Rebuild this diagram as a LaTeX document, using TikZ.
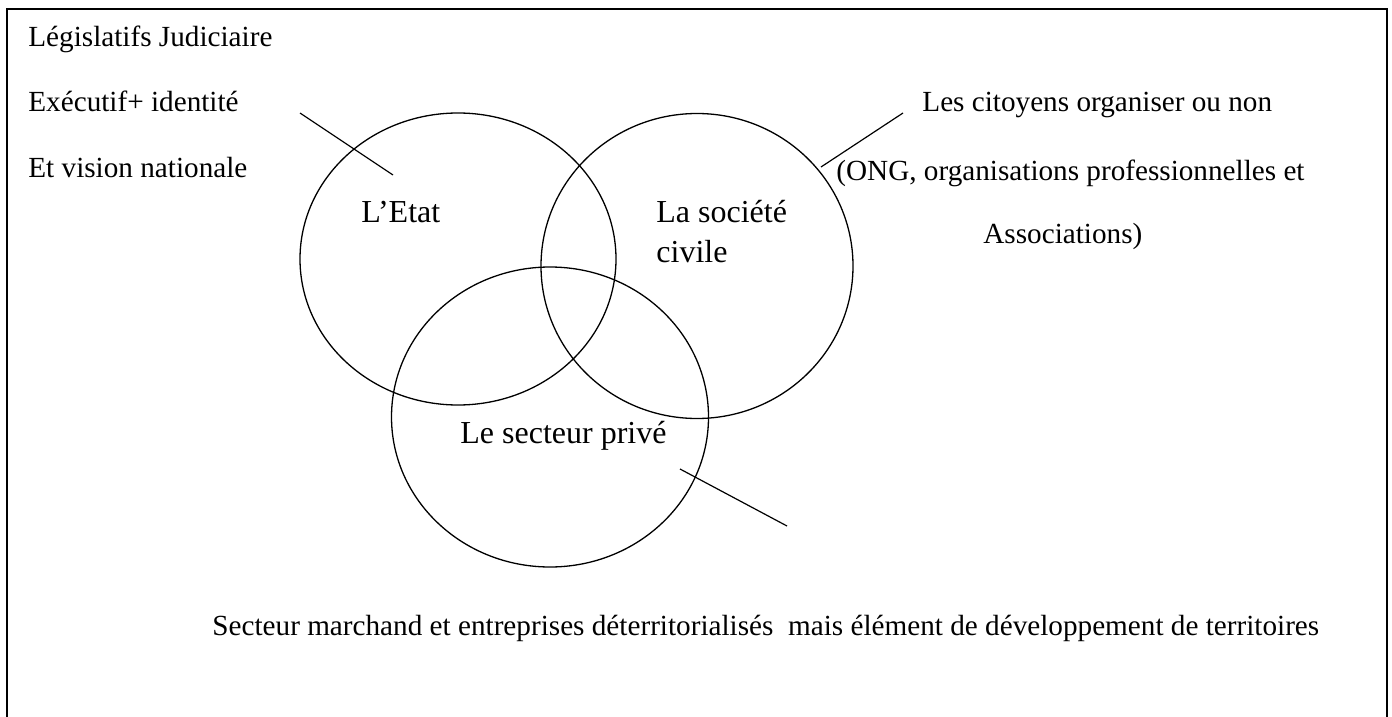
\documentclass[tikz,border=0pt]{standalone}
\usepackage{fontspec}
\setmainfont{Liberation Serif}
\usetikzlibrary{shapes.geometric}

\begin{document}
\begin{tikzpicture}[x=0.5pt, y=-0.5pt,
txt/.style={anchor=base west, inner sep=0pt, font=\fontsize{14.6}{17.5}\selectfont},
bigtxt/.style={anchor=base west, inner sep=0pt, font=\fontsize{16}{19.2}\selectfont},
sector/.style={ellipse, draw, line width=0.65pt, inner sep=0pt},
pointer/.style={line width=0.6pt}]

	\useasboundingbox (0,0) rectangle (1392,717);
	\draw[line width=0.8pt] (7,717) -- (7,9) -- (1387,9) -- (1387,717);

	\node[sector, minimum width=158pt, minimum height=146pt] (etat) at (458,259) {};
	\node[sector, minimum width=156pt, minimum height=152.5pt] (soc) at (697,266) {};
	\node[sector, minimum width=158.5pt, minimum height=150pt] (priv) at (550,417) {};

	\node[txt] (leg) at (28,47) {Législatifs Judiciaire};
	\node[txt] (exe) at (28,112) {Exécutif+ identité};
	\node[txt] (vis) at (28,177) {Et vision nationale};
	\node[bigtxt] (el) at (361,222) {L’Etat};
	\node[bigtxt] (sl) at (656,222) {La société};
	\node[bigtxt] (slb) at (656,262) {civile};
	\node[bigtxt] (pl) at (460,443) {Le secteur privé};
	\node[txt] (cit) at (922,112) {Les citoyens organiser ou non};
	\node[txt] (ong) at (836,180) {(ONG, organisations professionnelles et};
	\node[txt] (ass) at (983,243) {Associations)};
	\node[txt] (mar) at (212,635) {Secteur marchand et entreprises déterritorialisés\ \ mais élément de développement de territoires};

	\coordinate (ea) at (300,113);
	\coordinate (eb) at (393,175);
	\coordinate (sa) at (903,113);
	\coordinate (sb) at (821,167);
	\coordinate (pa) at (680,469);
	\coordinate (pb) at (787,526);

	\draw[pointer] (ea) -- (eb);
	\draw[pointer] (sa) -- (sb);
	\draw[pointer] (pa) -- (pb);
\end{tikzpicture}
\end{document}
